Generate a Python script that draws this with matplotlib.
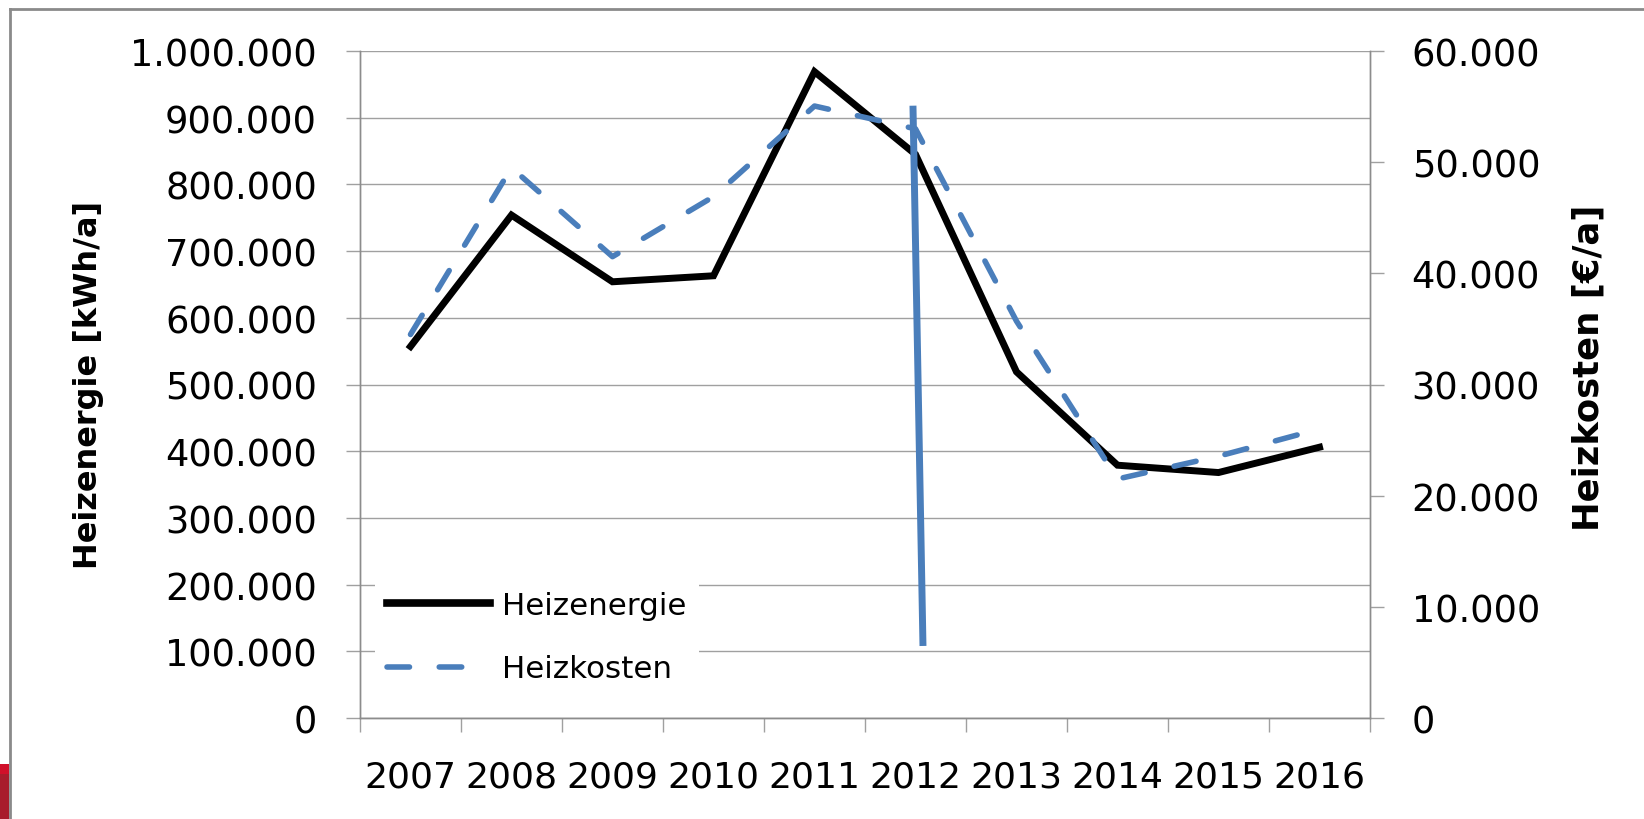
import matplotlib
matplotlib.use("Agg")
import matplotlib.pyplot as plt
import numpy as np
from matplotlib.lines import Line2D
from matplotlib.patches import Rectangle
from matplotlib.ticker import FuncFormatter, MultipleLocator, FixedLocator

# Data
years = ['2007', '2008', '2009', '2010', '2011', '2012', '2013', '2014', '2015', '2016']
heizenergie = [557000, 754000, 654000, 663000, 969000, 845000, 519000, 379000, 368000, 406000]  # kWh/a
heizkosten = [34500, 49500, 41500, 46900, 55050, 53000, 35700, 21500, 23550, 26000]  # EUR/a

# hand-drawn blue stroke near 2012 (category index, kWh/a)
stroke_x = [4.975, 5.074]
stroke_y = [918000, 108000]

grid_col = '#a0a0a0'
blue = '#4a7ebb'
dash_pat = (4.05, 5.35)

def de_fmt(v, pos=None):
    return f"{int(round(v)):,}".replace(",", ".")

plt.rcParams['font.family'] = ['DejaVu Sans']

fig = plt.figure(figsize=(16.44, 8.2), dpi=100)
ax = fig.add_axes([360 / 1644, 1 - 719 / 820, 1010 / 1644, 667 / 820])
ax2 = ax.twinx()

x = np.arange(len(years))

# lines
ax.plot(x, heizenergie, color='black', lw=5, solid_joinstyle='miter', zorder=3)
ax2.plot(x, heizkosten, color=blue, lw=4, dashes=dash_pat, dash_capstyle='round', zorder=3)
ax.plot(stroke_x, stroke_y, color=blue, lw=5, solid_capstyle='butt', zorder=6)

# left axis
ax.set_xlim(-0.5, len(years) - 0.5)
ax.set_ylim(0, 1000000)
ax.yaxis.set_major_locator(MultipleLocator(100000))
ax.yaxis.set_major_formatter(FuncFormatter(de_fmt))
ax.grid(axis='y', color=grid_col, lw=1.0)
ax.set_axisbelow(True)

# x axis: labels at centers, tick marks between categories
ax.set_xticks(x)
ax.set_xticklabels(years)
ax.xaxis.set_minor_locator(FixedLocator(np.arange(-0.5, len(years), 1.0)))
ax.tick_params(axis='x', which='major', length=0, pad=30, labelsize=26)
ax.tick_params(axis='x', which='minor', length=10, width=1.0, color=grid_col)
ax.tick_params(axis='y', length=10, width=1.0, color=grid_col, pad=21, labelsize=26.5)

# right axis
ax2.set_ylim(0, 60000)
ax2.yaxis.set_major_locator(MultipleLocator(10000))
ax2.yaxis.set_major_formatter(FuncFormatter(de_fmt))
ax2.tick_params(axis='y', length=10, width=1.0, color=grid_col, pad=20, labelsize=26.5)

for a in (ax, ax2):
    for s in a.spines.values():
        s.set_color('#8c8c8c')
        s.set_linewidth(1.0)
    a.spines['top'].set_visible(False)

# axis titles
fig.text(88 / 1644, 1 - 385 / 820, 'Heizenergie [kWh/a]', rotation=90, ha='center', va='center',
         fontsize=23, fontweight='bold')
fig.text(1589 / 1644, 1 - 368 / 820, 'Heizkosten [€/a]', rotation=90, ha='center', va='center',
         fontsize=25.5, fontweight='bold')

# legend
handles = [Line2D([0], [0], color='black', lw=5.5),
           Line2D([0], [0], color=blue, lw=4, dashes=dash_pat, dash_capstyle='round')]
leg = fig.legend(handles, ['Heizenergie', 'Heizkosten'], loc='center left',
                 bbox_to_anchor=(375 / 1644, 1 - 638 / 820), fontsize=22.3,
                 handlelength=3.3, handletextpad=0.4, labelspacing=1.12,
                 frameon=True, fancybox=False, borderaxespad=0, borderpad=0.4)
leg.get_frame().set_facecolor('white')
leg.get_frame().set_edgecolor('none')
leg.get_frame().set_alpha(1)
leg.set_zorder(10)

# outer frame and the red corner piece
fig.add_artist(Line2D([10 / 1644, 10 / 1644], [0, 1 - 10 / 820], color='#8a8a8a', lw=2,
                      transform=fig.transFigure))
fig.add_artist(Line2D([10 / 1644, 1], [1 - 10 / 820, 1 - 10 / 820], color='#8a8a8a', lw=2,
                      transform=fig.transFigure))
fig.add_artist(Rectangle((0, 0), 9 / 1644, 45 / 820, transform=fig.transFigure,
                         color='#a81c2c', lw=0))
fig.add_artist(Rectangle((0, 45 / 820), 9 / 1644, 10 / 820, transform=fig.transFigure,
                         color='#d0102a', lw=0))

fig.savefig('out.png', dpi=100)
